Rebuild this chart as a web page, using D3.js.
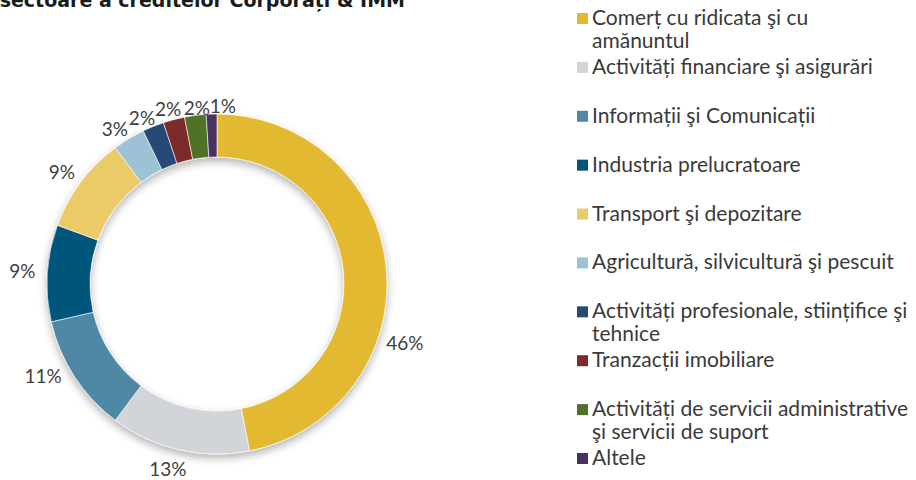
<!DOCTYPE html>
<html>
<head>
<meta charset="utf-8">
<script src="https://cdn.jsdelivr.net/npm/d3@7"></script>
<style>
  html, body { margin: 0; padding: 0; background: #fff; }
  svg { display: block; }
</style>
</head>
<body>
<svg id="chart" width="916" height="480"></svg>
<script>
// ---- data ----
const title = "Structura pe sectoare a creditelor Corporați & IMM";
const categories = [
  "Comerț cu ridicata şi cu\namănuntul",
  "Activități financiare şi asigurări",
  "Informații şi Comunicații",
  "Industria prelucratoare",
  "Transport şi depozitare",
  "Agricultură, silvicultură şi pescuit",
  "Activități profesionale, stiințifice şi\ntehnice",
  "Tranzacții imobiliare",
  "Activități de servicii administrative\nşi servicii de suport",
  "Altele"
];
const values = [46, 13, 11, 9, 9, 3, 2, 2, 2, 1];
const colors = ["#E3B931", "#D1D4D9", "#4F88A5", "#01547A", "#EACB67",
                "#9DC2D5", "#254A74", "#7D2A2B", "#4F7228", "#4A3163"];

// ---- layout ----
const svg = d3.select("#chart");
const cx = 217, cy = 284, rOuter = 170, rInner = 127;
const fontFamily = "Lato, 'Open Sans', sans-serif";

const defs = svg.append("defs");
const f = defs.append("filter").attr("id", "shadow")
  .attr("x", "-20%").attr("y", "-20%").attr("width", "140%").attr("height", "140%");
f.append("feDropShadow").attr("dx", 0).attr("dy", 4).attr("stdDeviation", 4)
  .attr("flood-color", "#000").attr("flood-opacity", 0.3);

// title (clipped at top, as in the reference)
svg.append("text")
  .attr("x", 405).attr("y", 7)
  .attr("text-anchor", "end")
  .attr("font-family", "'DejaVu Sans', sans-serif")
  .attr("font-weight", 700)
  .attr("font-size", 19)
  .attr("fill", "#1b1b1b")
  .text(title);

const color = d3.scaleOrdinal().domain(categories).range(colors);

const pie = d3.pie().sort(null).value((d, i) => values[i]);
const arcs = pie(categories);

const arc = d3.arc().innerRadius(rInner).outerRadius(rOuter);

const g = svg.append("g").attr("transform", `translate(${cx},${cy})`);
g.append("g").attr("filter", "url(#shadow)")
  .selectAll("path").data(arcs).join("path")
  .attr("d", arc)
  .attr("fill", d => color(d.data))
  .attr("stroke", "#ffffff")
  .attr("stroke-width", 0.6);

// data labels: placed around the slice mid-angle, with small spreading
// adjustments (degrees, radius) mimicking the reference's label layout
const labelAdjust = [
  [23, 197], [2, 192], [5, 197], [0, 195], [-1, 191],
  [-2.3, 185], [-2.3, 182], [-1, 181], [0.8, 177], [3.7, 178]
];
const fmt = d3.format(".0f");
g.selectAll("text.lbl").data(arcs).join("text")
  .attr("class", "lbl")
  .attr("transform", (d, i) => {
    const a = (d.startAngle + d.endAngle) / 2 + labelAdjust[i][0] * Math.PI / 180;
    const r = labelAdjust[i][1];
    return `translate(${r * Math.sin(a)},${-r * Math.cos(a)})`;
  })
  .attr("text-anchor", "middle")
  .attr("dy", "0.35em")
  .attr("font-family", fontFamily)
  .attr("font-size", 19)
  .attr("fill", "#404040")
  .text((d, i) => fmt(values[i]) + "%");

// legend
const rowY = d3.scalePoint().domain(categories).range([25, 465]);
const legend = svg.append("g");
const items = legend.selectAll("g").data(categories).join("g")
  .attr("transform", d => `translate(577,${rowY(d)})`);
items.append("rect")
  .attr("x", 0).attr("y", -12).attr("width", 11).attr("height", 11)
  .attr("fill", d => color(d));
items.append("text")
  .attr("font-family", fontFamily)
  .attr("font-size", 21)
  .attr("fill", "#3a3a3a")
  .each(function(d) {
    const t = d3.select(this);
    d.split("\n").forEach((line, k) => {
      t.append("tspan").attr("x", 15).attr("y", k * 23).text(line);
    });
  });
</script>
</body>
</html>
